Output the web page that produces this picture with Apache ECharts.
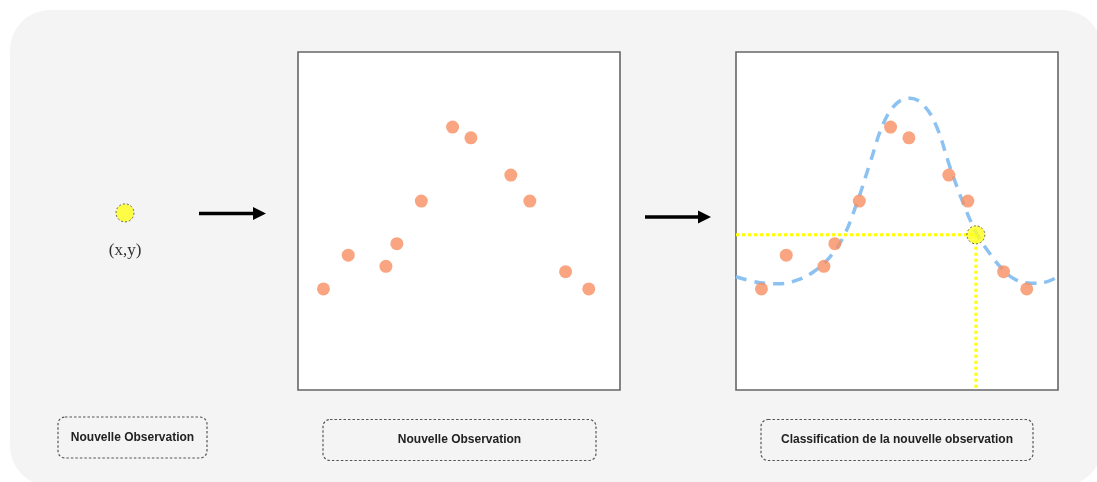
<!DOCTYPE html>
<html lang="fr">
<head>
  <meta charset="UTF-8">
  <title>Classification</title>
  <style>
    html, body { margin: 0; padding: 0; background: #fff; }
  </style>
</head>
<body>
  <div class="wrapper" style="width:1097px;height:482px;"></div>

  <script src="https://cdn.jsdelivr.net/npm/echarts@6/dist/echarts.min.js"></script>
  <script>
    // observations (repère 0..100 dans chaque cadre)
    const obsX = [7.9, 15.6, 27.3, 30.7, 38.3, 48.0, 53.7, 66.1, 72.0, 83.1, 90.3]
    const obsY = [29.9, 39.9, 36.6, 43.3, 55.9, 77.8, 74.6, 63.6, 55.9, 35.0, 29.9]
    // courbe ajustée
    const curveX = [0, 7.5, 12.7, 18.9, 24.1, 29.2, 33.4, 37.5, 41.6, 45.8, 49.9, 54.0, 58.2, 62.3, 66.4, 70.6, 74.7, 78.8, 83.0, 87.1, 91.8, 96.4, 100]
    const curveY = [33.5, 31.7, 31.4, 32.5, 35.0, 39.4, 45.4, 55.2, 67.1, 78.9, 84.8, 86.3, 84.3, 77.9, 66.1, 55.2, 46.4, 40.4, 35.5, 32.5, 31.6, 32.0, 33.5]
    // nouvelle observation
    const newObsAlone = [50, 52.4]
    const newObs = [74.5, 45.9]
    const labels = ['Nouvelle Observation', 'Nouvelle Observation', 'Classification de la nouvelle observation']

    const zip = (xs, ys) => xs.map((x, i) => [x, ys[i]])
    const obsData = zip(obsX, obsY)
    const curveData = zip(curveX, curveY)

    const echart = echarts.init(document.querySelector('.wrapper'))

    const hiddenAxis = (gridIndex) => ({
      type: 'value', gridIndex: gridIndex, min: 0, max: 100, show: false
    })
    const panelGrid = (left) => ({
      left: left, top: 52, width: 322, height: 338,
      show: true, backgroundColor: '#fff', borderColor: '#666', borderWidth: 1.6
    })

    const orange = '#f98f62'
    const yellow = '#ffff00'
    const yellowPoint = {
      color: '#ffff1a', borderColor: '#444', borderWidth: 1, borderType: [2, 2]
    }

    function arrow(x1, x2, y) {
      return {
        type: 'group',
        children: [
          { type: 'line', shape: { x1: x1, y1: y, x2: x2 - 10, y2: y }, style: { stroke: '#000', lineWidth: 3.4 } },
          { type: 'polygon', shape: { points: [[x2 - 13, y - 6.5], [x2, y], [x2 - 13, y + 6.5]] }, style: { fill: '#000' } }
        ]
      }
    }

    function labelBox(x, y, w, h, text) {
      return {
        type: 'group',
        children: [
          {
            type: 'rect', shape: { x: x, y: y, width: w, height: h, r: 7 },
            style: { fill: 'transparent', stroke: '#555', lineWidth: 1.2, lineDash: [2.5, 2] }
          },
          {
            type: 'text', x: x + w / 2, y: y + h / 2,
            style: {
              text: text, fill: '#222', font: 'bold 12px "Liberation Sans", Arial, sans-serif',
              textAlign: 'center', textVerticalAlign: 'middle'
            }
          }
        ]
      }
    }

    const option = {
      animation: false,
      graphic: [
        {
          type: 'rect', z: -10, silent: true,
          shape: { x: 10, y: 10, width: 1092, height: 476, r: 40 },
          style: { fill: '#f4f4f4' }
        },
        arrow(199, 266, 213.5),
        arrow(645, 711, 217),
        {
          type: 'text', x: 125, y: 251,
          style: {
            text: '(x,y)', fill: '#333', font: '17px "Liberation Serif", "DejaVu Serif", serif',
            textAlign: 'center', textVerticalAlign: 'middle'
          }
        },
        labelBox(58, 417, 149, 41, labels[0]),
        labelBox(323, 419.5, 273, 41, labels[1]),
        labelBox(761, 419.5, 272, 41, labels[2])
      ],
      grid: [
        { left: 60, top: 52, width: 130, height: 338, show: false },
        panelGrid(298),
        panelGrid(736)
      ],
      xAxis: [hiddenAxis(0), hiddenAxis(1), hiddenAxis(2)],
      yAxis: [hiddenAxis(0), hiddenAxis(1), hiddenAxis(2)],
      series: [
        {
          type: 'scatter', xAxisIndex: 0, yAxisIndex: 0,
          data: [newObsAlone], symbolSize: 18, itemStyle: yellowPoint
        },
        {
          type: 'scatter', xAxisIndex: 1, yAxisIndex: 1,
          data: obsData, symbolSize: 13, itemStyle: { color: orange }
        },
        {
          type: 'line', xAxisIndex: 2, yAxisIndex: 2, z: 2,
          data: curveData, smooth: 0.4, showSymbol: false, clip: true,
          lineStyle: { color: '#8cc2f2', width: 3.5, type: [11, 8] }
        },
        {
          type: 'line', xAxisIndex: 2, yAxisIndex: 2, z: 3,
          data: [[0, newObs[1]], newObs], showSymbol: false,
          lineStyle: { color: yellow, width: 3, type: [3, 3] }
        },
        {
          type: 'line', xAxisIndex: 2, yAxisIndex: 2, z: 3,
          data: [newObs, [newObs[0], 0]], showSymbol: false,
          lineStyle: { color: yellow, width: 3, type: [3, 3] }
        },
        {
          type: 'scatter', xAxisIndex: 2, yAxisIndex: 2, z: 4,
          data: obsData, symbolSize: 13, itemStyle: { color: orange }
        },
        {
          type: 'scatter', xAxisIndex: 2, yAxisIndex: 2, z: 5,
          data: [newObs], symbolSize: 18, itemStyle: yellowPoint
        }
      ]
    }

    echart.setOption(option)
  </script>
</body>
</html>
